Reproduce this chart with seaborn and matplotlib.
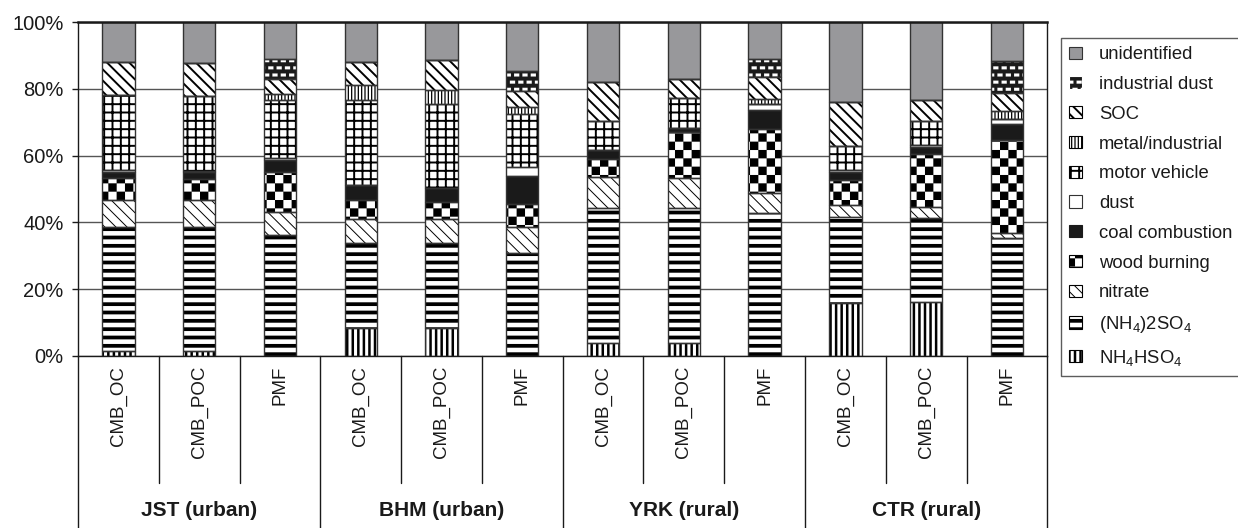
import numpy as np
import matplotlib
matplotlib.use("Agg")
import matplotlib.pyplot as plt
import matplotlib.hatch as mhatch
import matplotlib.patches as mpatches
from matplotlib.path import Path
from matplotlib.ticker import PercentFormatter
import seaborn as sns

# sites / methods on the two-level x axis
sites = ["JST (urban)", "BHM (urban)", "YRK (rural)", "CTR (rural)"]
methods = ["CMB_OC", "CMB_POC", "PMF"]

# source contributions in %, one value per bar (4 sites x 3 methods)
nh4hso4  = [1.5, 1.5, 0.0, 8.3, 8.3, 0.0, 3.8, 3.8, 0.0, 15.9, 16.2, 0.0]
nh4_2so4 = [37.0, 37.0, 36.2, 25.6, 25.6, 30.7, 40.4, 40.4, 42.7, 25.8, 25.0, 35.2]
nitrate  = [8.2, 8.2, 7.0, 7.0, 7.0, 8.0, 9.4, 9.0, 6.0, 3.5, 3.5, 1.7]
wood     = [6.5, 6.3, 11.9, 5.8, 5.1, 6.8, 5.5, 13.9, 19.4, 7.4, 15.9, 27.9]
coal     = [1.9, 2.0, 3.7, 4.5, 4.4, 8.3, 2.5, 1.3, 5.7, 2.5, 2.0, 4.8]
dust     = [0.5, 0.5, 0.6, 0.0, 0.0, 2.8, 0.0, 0.0, 1.6, 0.5, 0.5, 1.5]
motor    = [22.7, 22.4, 17.2, 25.6, 25.0, 16.0, 8.8, 9.0, 0.0, 7.2, 7.3, 0.0]
metal    = [0.0, 0.0, 1.8, 4.3, 4.4, 2.0, 0.0, 0.0, 1.7, 0.0, 0.0, 2.2]
soc      = [9.9, 9.9, 4.5, 7.1, 8.8, 4.9, 11.7, 5.5, 6.5, 13.3, 6.4, 5.6]
ind_dust = [0.0, 0.0, 6.1, 0.0, 0.0, 6.0, 0.0, 0.0, 5.4, 0.0, 0.0, 9.5]
unident  = [11.8, 12.2, 11.0, 11.8, 11.4, 14.5, 17.9, 17.1, 11.0, 23.9, 23.2, 11.6]

labels = ["NH$_\\mathregular{4}$HSO$_\\mathregular{4}$", "(NH$_\\mathregular{4}$)2SO$_\\mathregular{4}$",
          "nitrate", "wood burning", "coal combustion", "dust", "motor vehicle",
          "metal/industrial", "SOC", "industrial dust", "unidentified"]
values = [nh4hso4, nh4_2so4, nitrate, wood, coal, dust, motor, metal, soc, ind_dust, unident]

# (face, hatch, hatch colour, hatch linewidth) per source, same order as labels
styles = [
    ("white", "|||", "black", 1.8),
    ("white", "--", "black", 2.7),
    ("white", "\\\\\\", "black", 0.7),
    ("white", "OO", "black", 0.05),     # checkerboard (custom)
    ("#1a1a1a", None, "#1a1a1a", 1.0),
    ("white", None, "#333333", 1.0),
    ("white", "++", "black", 1.4),
    ("white", "|||||", "black", 0.9),
    ("white", "\\\\\\", "black", 1.4),
    ("#1a1a1a", "**", "white", 0.05),   # white dashes on black (custom)
    ("#98989b", None, "#333333", 1.0),
]


# --- two extra hatch patterns: checkerboard ('O') and staggered dashes ('*')
class CheckerHatch(mhatch.HatchPatternBase):
    def __init__(self, hatch, density):
        self.n = hatch.count("O") * density
        self.num_vertices = (self.n * self.n // 2) * 5

    def set_vertices_and_codes(self, vertices, codes):
        s = 1.0 / self.n
        k = 0
        for i in range(self.n):
            for j in range(self.n):
                if (i + j) % 2:
                    continue
                x0, y0 = i * s, j * s
                vertices[k:k + 5] = [(x0, y0), (x0 + s, y0), (x0 + s, y0 + s), (x0, y0 + s), (x0, y0)]
                codes[k:k + 5] = [Path.MOVETO, Path.LINETO, Path.LINETO, Path.LINETO, Path.CLOSEPOLY]
                k += 5


class BrickHatch(mhatch.HatchPatternBase):
    def __init__(self, hatch, density):
        c = hatch.count("*")
        self.rows = 7 * c + (7 * c) % 2
        self.cols = 6 * c
        n_dash = (self.rows // 2) * self.cols + (self.rows // 2) * (self.cols + 1) if c else 0
        self.num_vertices = 5 * n_dash

    def set_vertices_and_codes(self, vertices, codes):
        cw, rh = 1.0 / self.cols, 1.0 / self.rows
        w, h = 0.62 * cw, 0.42 * rh
        k = 0
        for r in range(self.rows):
            yc = (r + 0.5) * rh
            if r % 2 == 0:
                centres = (np.arange(self.cols) + 0.5) * cw
            else:
                centres = np.arange(self.cols + 1) * cw
            for xc in centres:
                x0, x1, y0, y1 = xc - w / 2, xc + w / 2, yc - h / 2, yc + h / 2
                vertices[k:k + 5] = [(x0, y0), (x1, y0), (x1, y1), (x0, y1), (x0, y0)]
                codes[k:k + 5] = [Path.MOVETO, Path.LINETO, Path.LINETO, Path.LINETO, Path.CLOSEPOLY]
                k += 5


mhatch._hatch_types = [t for t in mhatch._hatch_types
                       if t not in (mhatch.LargeCircles, mhatch.Stars)] + [CheckerHatch, BrickHatch]

sns.set_theme(style="white")
plt.rcParams["font.family"] = ["Liberation Sans", "DejaVu Sans"]
plt.rcParams["text.color"] = "#1a1a1a"
plt.rcParams["ytick.color"] = "#1a1a1a"

fig, ax = plt.subplots(figsize=(12.38, 5.28), dpi=100)
fig.subplots_adjust(left=0.063, right=0.846, top=0.958, bottom=0.326)

keys = [f"{s} {m}" for s in sites for m in methods]
stack = np.array(values)
tops = np.cumsum(stack, axis=0)

# stacked bars: draw cumulative totals from the top source down
for k in range(len(values) - 1, -1, -1):
    face, hatch, hcol, hlw = styles[k]
    with plt.rc_context({"hatch.linewidth": hlw}):
        sns.barplot(x=keys, y=tops[k], order=keys, color=face, saturation=1, width=0.4,
                    hatch=hatch, edgecolor=hcol, linewidth=0, errorbar=None, ax=ax)
    for bar in ax.containers[-1]:
        if hasattr(bar, "set_hatch_linewidth"):
            bar.set_hatch_linewidth(hlw)

# segment outlines
x = np.arange(len(keys))
for k in range(len(values)):
    ax.bar(x, stack[k], width=0.4, bottom=tops[k] - stack[k], fill=False,
           edgecolor="#333333", linewidth=1.0)

ax.set_ylim(0, 100)
ax.set_xlim(-0.5, len(keys) - 0.5)
ax.set_yticks(np.arange(0, 101, 20))
ax.yaxis.set_major_formatter(PercentFormatter(decimals=0))
ax.tick_params(axis="y", left=True, length=4, width=1, direction="out", labelsize=14.5, pad=6.5)
ax.set_xticks([])
ax.set_xlabel("")
ax.set_ylabel("")
ax.yaxis.grid(True, color="#555555", linewidth=1.0)
ax.set_axisbelow(True)
for side in ["left", "right", "bottom", "top"]:
    ax.spines[side].set_color("#1a1a1a")
    ax.spines[side].set_linewidth(1.0)
ax.spines["top"].set_linewidth(1.8)

# two-level category axis
trans = ax.get_xaxis_transform()
for i in range(len(keys)):
    ax.text(i, -0.03, methods[i % 3], rotation=90, ha="center", va="top",
            transform=trans, fontsize=13.5)
for j, site in enumerate(sites):
    ax.text(3 * j + 1, -0.464, site, ha="center", va="center", fontweight="bold",
            transform=trans, fontsize=15)
for b in np.arange(len(keys) + 1) - 0.5:
    long_line = int(b + 0.5) % 3 == 0
    ax.plot([b, b], [0, -0.6 if long_line else -0.38], transform=trans, clip_on=False,
            color="#1a1a1a", linewidth=1.0)

# legend (top source first)
handles = []
for k in range(len(values) - 1, -1, -1):
    face, hatch, hcol, hlw = styles[k]
    handles.append(mpatches.Patch(facecolor=face, hatch=hatch, edgecolor=hcol,
                                  label=labels[k], linewidth=0.8))
leg = fig.legend(handles=handles, loc="upper left", bbox_to_anchor=(1061 / 1238, 1 - 38 / 528),
                 frameon=True, fancybox=False, edgecolor="#333333", fontsize=13.3,
                 handlelength=0.7, handleheight=0.65, handletextpad=0.9, labelspacing=0.69,
                 borderpad=0.45, borderaxespad=0)
leg.get_frame().set_linewidth(1.0)
for h, k in zip(leg.legend_handles, range(len(values) - 1, -1, -1)):
    if hasattr(h, "set_hatch_linewidth"):
        h.set_hatch_linewidth(styles[k][3])

fig.savefig("out.png", dpi=100)
